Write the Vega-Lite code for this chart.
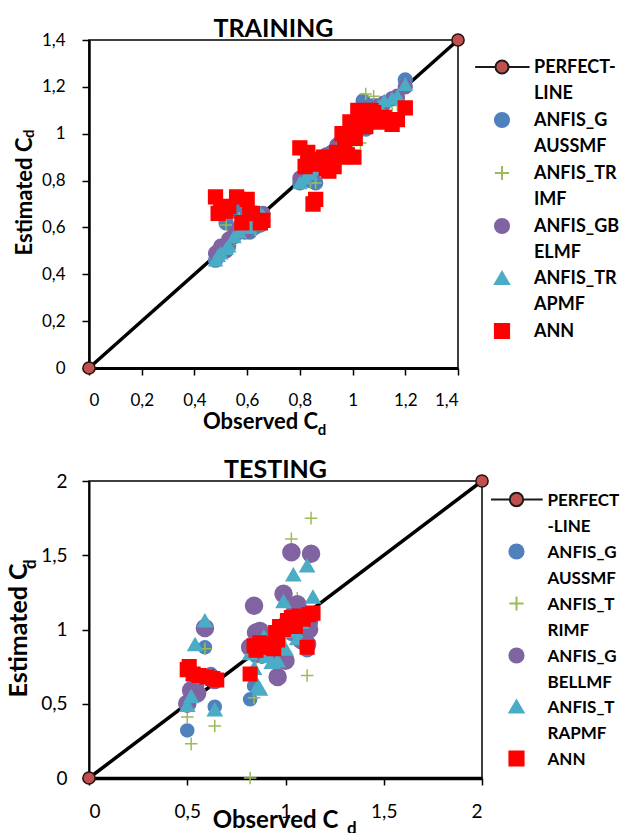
{
  "$schema": "https://vega.github.io/schema/vega-lite/v6.json",
  "background": "white",
  "padding": {"left": 5, "top": 16, "right": 0, "bottom": 0},
  "spacing": 18,
  "columns": 1,
  "align": "none",
  "resolve": {"scale": {"shape": "independent", "fill": "independent", "stroke": "independent"}, "legend": {"shape": "independent", "fill": "independent", "stroke": "independent"}},
  "config": {
    "font": "Lato",
    "view": {"stroke": "black", "strokeWidth": 1.5},
    "style": {"guide-label": {"dy": 6, "lineHeight": 26}},
    "axis": {"grid": false, "domainColor": "black", "tickColor": "black", "labelColor": "black", "titleColor": "black", "labelFont": "Lato", "titleFont": "Lato", "titleFontWeight": "bold", "tickSize": 7, "tickWidth": 1.5}
  },
  "datasets": {
    "train": [
      {"model":"ANFIS_GAUSSMF","obs":0.48,"est":0.46},{"model":"ANFIS_GAUSSMF","obs":0.49,"est":0.48},{"model":"ANFIS_GAUSSMF","obs":0.50,"est":0.50},{"model":"ANFIS_GAUSSMF","obs":0.52,"est":0.62},{"model":"ANFIS_GAUSSMF","obs":0.53,"est":0.52},{"model":"ANFIS_GAUSSMF","obs":0.55,"est":0.56},{"model":"ANFIS_GAUSSMF","obs":0.57,"est":0.67},{"model":"ANFIS_GAUSSMF","obs":0.59,"est":0.59},{"model":"ANFIS_GAUSSMF","obs":0.61,"est":0.58},{"model":"ANFIS_GAUSSMF","obs":0.63,"est":0.60},{"model":"ANFIS_GAUSSMF","obs":0.65,"est":0.61},{"model":"ANFIS_GAUSSMF","obs":0.66,"est":0.63},
      {"model":"ANFIS_GAUSSMF","obs":0.80,"est":0.79},{"model":"ANFIS_GAUSSMF","obs":0.82,"est":0.81},{"model":"ANFIS_GAUSSMF","obs":0.84,"est":0.80},{"model":"ANFIS_GAUSSMF","obs":0.86,"est":0.79},{"model":"ANFIS_GAUSSMF","obs":0.87,"est":0.86},{"model":"ANFIS_GAUSSMF","obs":0.88,"est":0.85},{"model":"ANFIS_GAUSSMF","obs":0.90,"est":0.88},{"model":"ANFIS_GAUSSMF","obs":0.92,"est":0.90},{"model":"ANFIS_GAUSSMF","obs":0.94,"est":0.93},{"model":"ANFIS_GAUSSMF","obs":0.95,"est":0.96},{"model":"ANFIS_GAUSSMF","obs":0.97,"est":0.95},{"model":"ANFIS_GAUSSMF","obs":0.98,"est":0.97},
      {"model":"ANFIS_GAUSSMF","obs":1.00,"est":1.00},{"model":"ANFIS_GAUSSMF","obs":1.01,"est":0.99},{"model":"ANFIS_GAUSSMF","obs":1.03,"est":1.05},{"model":"ANFIS_GAUSSMF","obs":1.04,"est":1.14},{"model":"ANFIS_GAUSSMF","obs":1.05,"est":1.02},{"model":"ANFIS_GAUSSMF","obs":1.06,"est":1.08},{"model":"ANFIS_GAUSSMF","obs":1.08,"est":1.12},{"model":"ANFIS_GAUSSMF","obs":1.10,"est":1.10},{"model":"ANFIS_GAUSSMF","obs":1.12,"est":1.13},{"model":"ANFIS_GAUSSMF","obs":1.15,"est":1.05},{"model":"ANFIS_GAUSSMF","obs":1.17,"est":1.15},{"model":"ANFIS_GAUSSMF","obs":1.20,"est":1.23},
      {"model":"ANFIS_TRIMF","obs":0.48,"est":0.47},{"model":"ANFIS_TRIMF","obs":0.49,"est":0.47},{"model":"ANFIS_TRIMF","obs":0.50,"est":0.51},{"model":"ANFIS_TRIMF","obs":0.52,"est":0.61},{"model":"ANFIS_TRIMF","obs":0.53,"est":0.53},{"model":"ANFIS_TRIMF","obs":0.55,"est":0.55},{"model":"ANFIS_TRIMF","obs":0.57,"est":0.64},{"model":"ANFIS_TRIMF","obs":0.59,"est":0.58},{"model":"ANFIS_TRIMF","obs":0.61,"est":0.60},{"model":"ANFIS_TRIMF","obs":0.63,"est":0.59},{"model":"ANFIS_TRIMF","obs":0.65,"est":0.62},{"model":"ANFIS_TRIMF","obs":0.66,"est":0.61},
      {"model":"ANFIS_TRIMF","obs":0.80,"est":0.80},{"model":"ANFIS_TRIMF","obs":0.82,"est":0.80},{"model":"ANFIS_TRIMF","obs":0.84,"est":0.79},{"model":"ANFIS_TRIMF","obs":0.86,"est":0.79},{"model":"ANFIS_TRIMF","obs":0.87,"est":0.87},{"model":"ANFIS_TRIMF","obs":0.88,"est":0.86},{"model":"ANFIS_TRIMF","obs":0.90,"est":0.89},{"model":"ANFIS_TRIMF","obs":0.92,"est":0.91},{"model":"ANFIS_TRIMF","obs":0.94,"est":0.94},{"model":"ANFIS_TRIMF","obs":0.95,"est":0.96},{"model":"ANFIS_TRIMF","obs":0.97,"est":0.96},{"model":"ANFIS_TRIMF","obs":0.98,"est":0.98},
      {"model":"ANFIS_TRIMF","obs":1.00,"est":0.95},{"model":"ANFIS_TRIMF","obs":1.01,"est":1.01},{"model":"ANFIS_TRIMF","obs":1.03,"est":0.96},{"model":"ANFIS_TRIMF","obs":1.04,"est":1.04},{"model":"ANFIS_TRIMF","obs":1.05,"est":1.17},{"model":"ANFIS_TRIMF","obs":1.06,"est":1.06},{"model":"ANFIS_TRIMF","obs":1.08,"est":1.16},{"model":"ANFIS_TRIMF","obs":1.10,"est":1.09},{"model":"ANFIS_TRIMF","obs":1.12,"est":1.10},{"model":"ANFIS_TRIMF","obs":1.15,"est":1.09},{"model":"ANFIS_TRIMF","obs":1.17,"est":1.12},{"model":"ANFIS_TRIMF","obs":1.20,"est":1.21},
      {"model":"ANFIS_GBELMF","obs":0.48,"est":0.49},{"model":"ANFIS_GBELMF","obs":0.49,"est":0.50},{"model":"ANFIS_GBELMF","obs":0.50,"est":0.52},{"model":"ANFIS_GBELMF","obs":0.52,"est":0.50},{"model":"ANFIS_GBELMF","obs":0.53,"est":0.55},{"model":"ANFIS_GBELMF","obs":0.55,"est":0.57},{"model":"ANFIS_GBELMF","obs":0.57,"est":0.60},{"model":"ANFIS_GBELMF","obs":0.59,"est":0.58},{"model":"ANFIS_GBELMF","obs":0.61,"est":0.61},{"model":"ANFIS_GBELMF","obs":0.63,"est":0.62},{"model":"ANFIS_GBELMF","obs":0.65,"est":0.64},{"model":"ANFIS_GBELMF","obs":0.66,"est":0.66},
      {"model":"ANFIS_GBELMF","obs":0.80,"est":0.81},{"model":"ANFIS_GBELMF","obs":0.82,"est":0.82},{"model":"ANFIS_GBELMF","obs":0.84,"est":0.84},{"model":"ANFIS_GBELMF","obs":0.86,"est":0.86},{"model":"ANFIS_GBELMF","obs":0.87,"est":0.88},{"model":"ANFIS_GBELMF","obs":0.88,"est":0.88},{"model":"ANFIS_GBELMF","obs":0.90,"est":0.91},{"model":"ANFIS_GBELMF","obs":0.92,"est":0.92},{"model":"ANFIS_GBELMF","obs":0.94,"est":0.95},{"model":"ANFIS_GBELMF","obs":0.95,"est":0.94},{"model":"ANFIS_GBELMF","obs":0.97,"est":0.98},{"model":"ANFIS_GBELMF","obs":0.98,"est":0.99},
      {"model":"ANFIS_GBELMF","obs":1.00,"est":1.01},{"model":"ANFIS_GBELMF","obs":1.01,"est":1.02},{"model":"ANFIS_GBELMF","obs":1.03,"est":1.03},{"model":"ANFIS_GBELMF","obs":1.04,"est":1.05},{"model":"ANFIS_GBELMF","obs":1.05,"est":1.06},{"model":"ANFIS_GBELMF","obs":1.06,"est":1.07},{"model":"ANFIS_GBELMF","obs":1.08,"est":1.09},{"model":"ANFIS_GBELMF","obs":1.10,"est":1.12},{"model":"ANFIS_GBELMF","obs":1.12,"est":1.13},{"model":"ANFIS_GBELMF","obs":1.15,"est":1.15},{"model":"ANFIS_GBELMF","obs":1.17,"est":1.16},{"model":"ANFIS_GBELMF","obs":1.20,"est":1.20},
      {"model":"ANFIS_TRAPMF","obs":0.48,"est":0.46},{"model":"ANFIS_TRAPMF","obs":0.49,"est":0.48},{"model":"ANFIS_TRAPMF","obs":0.50,"est":0.49},{"model":"ANFIS_TRAPMF","obs":0.52,"est":0.51},{"model":"ANFIS_TRAPMF","obs":0.53,"est":0.52},{"model":"ANFIS_TRAPMF","obs":0.55,"est":0.56},{"model":"ANFIS_TRAPMF","obs":0.57,"est":0.58},{"model":"ANFIS_TRAPMF","obs":0.59,"est":0.60},{"model":"ANFIS_TRAPMF","obs":0.61,"est":0.60},{"model":"ANFIS_TRAPMF","obs":0.63,"est":0.62},{"model":"ANFIS_TRAPMF","obs":0.65,"est":0.66},{"model":"ANFIS_TRAPMF","obs":0.66,"est":0.65},
      {"model":"ANFIS_TRAPMF","obs":0.80,"est":0.79},{"model":"ANFIS_TRAPMF","obs":0.82,"est":0.81},{"model":"ANFIS_TRAPMF","obs":0.84,"est":0.83},{"model":"ANFIS_TRAPMF","obs":0.86,"est":0.85},{"model":"ANFIS_TRAPMF","obs":0.87,"est":0.86},{"model":"ANFIS_TRAPMF","obs":0.88,"est":0.88},{"model":"ANFIS_TRAPMF","obs":0.90,"est":0.90},{"model":"ANFIS_TRAPMF","obs":0.92,"est":0.92},{"model":"ANFIS_TRAPMF","obs":0.94,"est":0.93},{"model":"ANFIS_TRAPMF","obs":0.95,"est":0.95},{"model":"ANFIS_TRAPMF","obs":0.97,"est":0.96},{"model":"ANFIS_TRAPMF","obs":0.98,"est":0.99},
      {"model":"ANFIS_TRAPMF","obs":1.00,"est":1.00},{"model":"ANFIS_TRAPMF","obs":1.01,"est":1.02},{"model":"ANFIS_TRAPMF","obs":1.03,"est":1.03},{"model":"ANFIS_TRAPMF","obs":1.04,"est":1.04},{"model":"ANFIS_TRAPMF","obs":1.05,"est":1.06},{"model":"ANFIS_TRAPMF","obs":1.06,"est":1.08},{"model":"ANFIS_TRAPMF","obs":1.08,"est":1.09},{"model":"ANFIS_TRAPMF","obs":1.10,"est":1.12},{"model":"ANFIS_TRAPMF","obs":1.12,"est":1.14},{"model":"ANFIS_TRAPMF","obs":1.15,"est":1.15},{"model":"ANFIS_TRAPMF","obs":1.17,"est":1.16},{"model":"ANFIS_TRAPMF","obs":1.20,"est":1.21},
      {"model":"ANN","obs":0.48,"est":0.73},{"model":"ANN","obs":0.49,"est":0.66},{"model":"ANN","obs":0.50,"est":0.67},{"model":"ANN","obs":0.52,"est":0.67},{"model":"ANN","obs":0.53,"est":0.69},{"model":"ANN","obs":0.56,"est":0.73},{"model":"ANN","obs":0.58,"est":0.62},{"model":"ANN","obs":0.60,"est":0.72},{"model":"ANN","obs":0.61,"est":0.66},{"model":"ANN","obs":0.62,"est":0.66},{"model":"ANN","obs":0.65,"est":0.62},{"model":"ANN","obs":0.66,"est":0.63},
      {"model":"ANN","obs":0.80,"est":0.94},{"model":"ANN","obs":0.82,"est":0.86},{"model":"ANN","obs":0.83,"est":0.92},{"model":"ANN","obs":0.84,"est":0.89},{"model":"ANN","obs":0.85,"est":0.70},{"model":"ANN","obs":0.86,"est":0.72},{"model":"ANN","obs":0.86,"est":0.87},{"model":"ANN","obs":0.88,"est":0.88},{"model":"ANN","obs":0.89,"est":0.90},{"model":"ANN","obs":0.90,"est":0.85},{"model":"ANN","obs":0.91,"est":0.84},{"model":"ANN","obs":0.92,"est":0.89},{"model":"ANN","obs":0.93,"est":0.86},{"model":"ANN","obs":0.94,"est":0.92},{"model":"ANN","obs":0.95,"est":0.90},{"model":"ANN","obs":0.96,"est":1.00},{"model":"ANN","obs":0.97,"est":0.95},{"model":"ANN","obs":0.98,"est":0.91},{"model":"ANN","obs":1.005,"est":0.90},
      {"model":"ANN","obs":0.99,"est":1.05},{"model":"ANN","obs":1.00,"est":1.01},{"model":"ANN","obs":1.01,"est":0.98},{"model":"ANN","obs":1.02,"est":1.10},{"model":"ANN","obs":1.03,"est":1.05},{"model":"ANN","obs":1.04,"est":1.08},{"model":"ANN","obs":1.05,"est":1.03},{"model":"ANN","obs":1.06,"est":1.06},{"model":"ANN","obs":1.07,"est":1.10},{"model":"ANN","obs":1.08,"est":1.09},{"model":"ANN","obs":1.10,"est":1.05},{"model":"ANN","obs":1.12,"est":1.07},{"model":"ANN","obs":1.15,"est":1.04},{"model":"ANN","obs":1.17,"est":1.06},{"model":"ANN","obs":1.20,"est":1.11}
    ],
    "test": [
      {"model":"ANFIS_GAUSSMF","obs":0.50,"est":0.32},{"model":"ANFIS_GAUSSMF","obs":0.52,"est":0.55},{"model":"ANFIS_GAUSSMF","obs":0.55,"est":0.62},{"model":"ANFIS_GAUSSMF","obs":0.59,"est":0.88},{"model":"ANFIS_GAUSSMF","obs":0.62,"est":0.70},{"model":"ANFIS_GAUSSMF","obs":0.64,"est":0.48},{"model":"ANFIS_GAUSSMF","obs":0.82,"est":0.53},{"model":"ANFIS_GAUSSMF","obs":0.84,"est":0.62},{"model":"ANFIS_GAUSSMF","obs":0.85,"est":0.82},{"model":"ANFIS_GAUSSMF","obs":0.87,"est":0.90},{"model":"ANFIS_GAUSSMF","obs":0.88,"est":0.86},{"model":"ANFIS_GAUSSMF","obs":0.90,"est":0.95},{"model":"ANFIS_GAUSSMF","obs":0.93,"est":0.92},{"model":"ANFIS_GAUSSMF","obs":0.96,"est":0.88},{"model":"ANFIS_GAUSSMF","obs":0.99,"est":1.00},{"model":"ANFIS_GAUSSMF","obs":1.00,"est":1.05},{"model":"ANFIS_GAUSSMF","obs":1.03,"est":0.97},{"model":"ANFIS_GAUSSMF","obs":1.04,"est":1.08},{"model":"ANFIS_GAUSSMF","obs":1.06,"est":1.02},{"model":"ANFIS_GAUSSMF","obs":1.08,"est":1.10},{"model":"ANFIS_GAUSSMF","obs":1.11,"est":0.86},{"model":"ANFIS_GAUSSMF","obs":1.13,"est":1.05},
      {"model":"ANFIS_TRIMF","obs":0.50,"est":0.41},{"model":"ANFIS_TRIMF","obs":0.52,"est":0.23},{"model":"ANFIS_TRIMF","obs":0.55,"est":0.60},{"model":"ANFIS_TRIMF","obs":0.59,"est":0.87},{"model":"ANFIS_TRIMF","obs":0.62,"est":0.66},{"model":"ANFIS_TRIMF","obs":0.64,"est":0.35},{"model":"ANFIS_TRIMF","obs":0.82,"est":0.00},{"model":"ANFIS_TRIMF","obs":0.84,"est":0.54},{"model":"ANFIS_TRIMF","obs":0.85,"est":0.80},{"model":"ANFIS_TRIMF","obs":0.87,"est":0.92},{"model":"ANFIS_TRIMF","obs":0.88,"est":0.85},{"model":"ANFIS_TRIMF","obs":0.90,"est":0.97},{"model":"ANFIS_TRIMF","obs":0.93,"est":0.89},{"model":"ANFIS_TRIMF","obs":0.96,"est":0.94},{"model":"ANFIS_TRIMF","obs":0.99,"est":1.05},{"model":"ANFIS_TRIMF","obs":1.00,"est":0.95},{"model":"ANFIS_TRIMF","obs":1.03,"est":1.61},{"model":"ANFIS_TRIMF","obs":1.04,"est":1.02},{"model":"ANFIS_TRIMF","obs":1.06,"est":1.21},{"model":"ANFIS_TRIMF","obs":1.08,"est":1.00},{"model":"ANFIS_TRIMF","obs":1.11,"est":0.69},{"model":"ANFIS_TRIMF","obs":1.13,"est":1.75},
      {"model":"ANFIS_GBELLMF","obs":0.50,"est":0.50},{"model":"ANFIS_GBELLMF","obs":0.52,"est":0.59},{"model":"ANFIS_GBELLMF","obs":0.55,"est":0.57},{"model":"ANFIS_GBELLMF","obs":0.59,"est":1.01},{"model":"ANFIS_GBELLMF","obs":0.62,"est":0.68},{"model":"ANFIS_GBELLMF","obs":0.64,"est":0.66},{"model":"ANFIS_GBELLMF","obs":0.82,"est":0.88},{"model":"ANFIS_GBELLMF","obs":0.84,"est":1.16},{"model":"ANFIS_GBELLMF","obs":0.85,"est":0.98},{"model":"ANFIS_GBELLMF","obs":0.87,"est":0.99},{"model":"ANFIS_GBELLMF","obs":0.88,"est":0.83},{"model":"ANFIS_GBELLMF","obs":0.90,"est":0.90},{"model":"ANFIS_GBELLMF","obs":0.93,"est":0.86},{"model":"ANFIS_GBELLMF","obs":0.96,"est":0.68},{"model":"ANFIS_GBELLMF","obs":0.99,"est":1.24},{"model":"ANFIS_GBELLMF","obs":1.00,"est":0.79},{"model":"ANFIS_GBELLMF","obs":1.03,"est":1.52},{"model":"ANFIS_GBELLMF","obs":1.04,"est":1.10},{"model":"ANFIS_GBELLMF","obs":1.06,"est":1.17},{"model":"ANFIS_GBELLMF","obs":1.08,"est":0.93},{"model":"ANFIS_GBELLMF","obs":1.11,"est":0.90},{"model":"ANFIS_GBELLMF","obs":1.12,"est":1.00},{"model":"ANFIS_GBELLMF","obs":1.13,"est":1.51},
      {"model":"ANFIS_TRAPMF","obs":0.50,"est":0.49},{"model":"ANFIS_TRAPMF","obs":0.52,"est":0.55},{"model":"ANFIS_TRAPMF","obs":0.54,"est":0.90},{"model":"ANFIS_TRAPMF","obs":0.59,"est":1.06},{"model":"ANFIS_TRAPMF","obs":0.62,"est":0.69},{"model":"ANFIS_TRAPMF","obs":0.64,"est":0.46},{"model":"ANFIS_TRAPMF","obs":0.82,"est":0.84},{"model":"ANFIS_TRAPMF","obs":0.84,"est":0.74},{"model":"ANFIS_TRAPMF","obs":0.86,"est":0.62},{"model":"ANFIS_TRAPMF","obs":0.87,"est":0.60},{"model":"ANFIS_TRAPMF","obs":0.89,"est":0.95},{"model":"ANFIS_TRAPMF","obs":0.90,"est":0.82},{"model":"ANFIS_TRAPMF","obs":0.93,"est":0.78},{"model":"ANFIS_TRAPMF","obs":0.96,"est":0.79},{"model":"ANFIS_TRAPMF","obs":0.99,"est":1.19},{"model":"ANFIS_TRAPMF","obs":1.00,"est":0.87},{"model":"ANFIS_TRAPMF","obs":1.04,"est":1.37},{"model":"ANFIS_TRAPMF","obs":1.05,"est":0.99},{"model":"ANFIS_TRAPMF","obs":1.06,"est":0.94},{"model":"ANFIS_TRAPMF","obs":1.08,"est":1.05},{"model":"ANFIS_TRAPMF","obs":1.11,"est":1.43},{"model":"ANFIS_TRAPMF","obs":1.14,"est":1.22},
      {"model":"ANN","obs":0.50,"est":0.73},{"model":"ANN","obs":0.51,"est":0.75},{"model":"ANN","obs":0.53,"est":0.70},{"model":"ANN","obs":0.56,"est":0.69},{"model":"ANN","obs":0.60,"est":0.68},{"model":"ANN","obs":0.63,"est":0.67},{"model":"ANN","obs":0.65,"est":0.66},{"model":"ANN","obs":0.82,"est":0.70},{"model":"ANN","obs":0.84,"est":0.89},{"model":"ANN","obs":0.85,"est":0.86},{"model":"ANN","obs":0.87,"est":0.91},{"model":"ANN","obs":0.89,"est":0.88},{"model":"ANN","obs":0.91,"est":0.90},{"model":"ANN","obs":0.94,"est":0.87},{"model":"ANN","obs":0.95,"est":0.98},{"model":"ANN","obs":0.96,"est":0.93},{"model":"ANN","obs":0.97,"est":1.02},{"model":"ANN","obs":0.99,"est":1.00},{"model":"ANN","obs":1.01,"est":1.06},{"model":"ANN","obs":1.03,"est":1.08},{"model":"ANN","obs":1.05,"est":1.02},{"model":"ANN","obs":1.07,"est":1.09},{"model":"ANN","obs":1.09,"est":1.07},{"model":"ANN","obs":1.11,"est":0.88},{"model":"ANN","obs":1.12,"est":1.10},{"model":"ANN","obs":1.14,"est":1.11}
    ]
  },
  "concat": [
    {
      "width": 369,
      "height": 328,
      "title": {"text": "TRAINING", "font": "Lato", "fontSize": 25, "fontWeight": "bold", "color": "black", "frame": "group", "baseline": "alphabetic", "offset": -31},
      "encoding": {
        "x": {"field": "obs", "type": "quantitative", "scale": {"domain": [0, 1.4], "nice": false},
              "axis": {"values": [0, 0.2, 0.4, 0.6, 0.8, 1, 1.2, 1.4], "labelExpr": "replace(format(datum.value, '.1~f'), '.', ',')", "labelFontSize": 17, "labelPadding": 11, "domainWidth": 3, "title": "Observed C", "titleFontSize": 22, "titleX": 171, "titleY": 60, "titleBaseline": "alphabetic", "titleAlign": "center"}},
        "y": {"field": "est", "type": "quantitative", "scale": {"domain": [0, 1.4], "nice": false},
              "axis": {"values": [0, 0.2, 0.4, 0.6, 0.8, 1, 1.2, 1.4], "labelExpr": "replace(format(datum.value, '.1~f'), '.', ',')", "labelFontSize": 17, "labelPadding": 17, "labelOffset": -6, "domainWidth": 2.5, "title": "Estimated C", "titleFontSize": 22, "titleAngle": 270, "titleX": -58, "titleY": 156, "titleBaseline": "alphabetic", "titleAlign": "center"}}
      },
      "layer": [
        {"data": {"values": [{"obs": 0, "est": 0}, {"obs": 1.4, "est": 1.4}]}, "mark": {"type": "line", "color": "black", "strokeWidth": 3.5, "clip": false}},
        {"data": {"name": "train"},
         "encoding": {
           "shape": {"field": "model", "type": "nominal", "scale": {"domain": ["PERFECT-LINE", "ANFIS_GAUSSMF", "ANFIS_TRIMF", "ANFIS_GBELMF", "ANFIS_TRAPMF", "ANN"], "range": ["M-3.8,0H-0.92M0.92,0H3.9M-0.92,0A0.92,0.92,0,1,1,0.92,0A0.92,0.92,0,1,1,-0.92,0Z", "circle", "M-1,0H1M0,-1V1", "circle", "triangle-up", "square"]},
                     "legend": {"orient": "none", "legendX": 404, "legendY": 18, "title": null, "padding": 0, "labelFont": "Lato", "labelFontSize": 18, "labelFontWeight": "bold", "labelColor": "black", "labelBaseline": "alphabetic", "labelLimit": 300, "labelOffset": 23, "symbolSize": 200, "symbolStrokeWidth": 2, "rowPadding": 5,
                                "labelExpr": "datum.label == 'ANN' ? 'ANN' : datum.label == 'ANFIS_GAUSSMF' ? ['ANFIS_G', 'AUSSMF'] : [slice(datum.label, 0, 8), slice(datum.label, 8)]"}},
           "fill": {"field": "model", "type": "nominal", "scale": {"domain": ["PERFECT-LINE", "ANFIS_GAUSSMF", "ANFIS_TRIMF", "ANFIS_GBELMF", "ANFIS_TRAPMF", "ANN"], "range": ["#C0504D", "#4F81BD", "#9BBB59", "#8064A2", "#4BACC6", "#FF0000"]},
                     "legend": {"orient": "none", "legendX": 404, "legendY": 18, "title": null, "padding": 0, "labelFont": "Lato", "labelFontSize": 18, "labelFontWeight": "bold", "labelColor": "black", "labelBaseline": "alphabetic", "labelLimit": 300, "labelOffset": 23, "symbolSize": 200, "symbolStrokeWidth": 2, "rowPadding": 5,
                                "labelExpr": "datum.label == 'ANN' ? 'ANN' : datum.label == 'ANFIS_GAUSSMF' ? ['ANFIS_G', 'AUSSMF'] : [slice(datum.label, 0, 8), slice(datum.label, 8)]"}},
           "stroke": {"field": "model", "type": "nominal", "scale": {"domain": ["PERFECT-LINE", "ANFIS_GAUSSMF", "ANFIS_TRIMF", "ANFIS_GBELMF", "ANFIS_TRAPMF", "ANN"], "range": ["#1a1a1a", "#4F81BD", "#9BBB59", "#8064A2", "#4BACC6", "#FF0000"]},
                     "legend": {"orient": "none", "legendX": 404, "legendY": 18, "title": null, "padding": 0, "labelFont": "Lato", "labelFontSize": 18, "labelFontWeight": "bold", "labelColor": "black", "labelBaseline": "alphabetic", "labelLimit": 300, "labelOffset": 23, "symbolSize": 200, "symbolStrokeWidth": 2, "rowPadding": 5,
                                "labelExpr": "datum.label == 'ANN' ? 'ANN' : datum.label == 'ANFIS_GAUSSMF' ? ['ANFIS_G', 'AUSSMF'] : [slice(datum.label, 0, 8), slice(datum.label, 8)]"}}
         },
         "layer": [
           {"transform": [{"filter": "datum.model == 'ANFIS_GAUSSMF'"}], "mark": {"type": "point", "filled": true, "opacity": 1, "strokeWidth": 1.5, "size": 190}},
           {"transform": [{"filter": "datum.model == 'ANFIS_TRIMF'"}], "mark": {"type": "point", "filled": true, "opacity": 1, "strokeWidth": 1.5, "size": 150}},
           {"transform": [{"filter": "datum.model == 'ANFIS_GBELMF'"}], "mark": {"type": "point", "filled": true, "opacity": 1, "strokeWidth": 1.5, "size": 190}},
           {"transform": [{"filter": "datum.model == 'ANFIS_TRAPMF'"}], "mark": {"type": "point", "filled": true, "opacity": 1, "strokeWidth": 1.5, "size": 170}},
           {"transform": [{"filter": "datum.model == 'ANN'"}], "mark": {"type": "point", "filled": true, "opacity": 1, "strokeWidth": 1.5, "size": 190}}
         ]
        },
        {"data": {"values": [{"obs": 0, "est": 0}, {"obs": 1.4, "est": 1.4}]}, "mark": {"type": "point", "shape": "circle", "filled": true, "fill": "#C0504D", "stroke": "#2a1010", "strokeWidth": 1.5, "size": 150, "opacity": 1, "clip": false}},
        {"data": {"values": [{"obs": 0.868, "est": -0.285, "sub": "d"}]}, "mark": {"type": "text", "font": "Lato", "fontWeight": "bold", "fontSize": 15, "align": "left", "baseline": "alphabetic", "color": "black", "clip": false}, "encoding": {"text": {"field": "sub"}}},
        {"data": {"values": [{"obs": -0.208, "est": 1.0, "sub": "d"}]}, "mark": {"type": "text", "font": "Lato", "fontWeight": "bold", "fontSize": 15, "angle": 270, "align": "center", "baseline": "alphabetic", "color": "black", "clip": false}, "encoding": {"text": {"field": "sub"}}}
      ]
    },
    {
      "width": 393,
      "height": 297,
      "title": {"text": "TESTING", "font": "Lato", "fontSize": 25, "fontWeight": "bold", "color": "black", "frame": "group", "baseline": "alphabetic", "offset": -31, "dx": -10},
      "encoding": {
        "x": {"field": "obs", "type": "quantitative", "scale": {"domain": [0, 2], "nice": false},
              "axis": {"values": [0, 0.5, 1, 1.5, 2], "labelExpr": "replace(format(datum.value, '.1~f'), '.', ',')", "labelFontSize": 19, "labelPadding": 11, "domainWidth": 3.5, "title": "Observed  C", "titleFontSize": 24, "titleX": 186, "titleY": 49, "titleBaseline": "alphabetic", "titleAlign": "center"}},
        "y": {"field": "est", "type": "quantitative", "scale": {"domain": [0, 2], "nice": false},
              "axis": {"values": [0, 0.5, 1, 1.5, 2], "labelExpr": "replace(format(datum.value, '.1~f'), '.', ',')", "labelFontSize": 19, "labelPadding": 15, "labelOffset": -6, "domainWidth": 2, "title": "Estimated C", "titleFontSize": 25, "titleAngle": 270, "titleX": -63, "titleY": 149, "titleBaseline": "alphabetic", "titleAlign": "center"}}
      },
      "layer": [
        {"data": {"values": [{"obs": 0, "est": 0}, {"obs": 2, "est": 2}]}, "mark": {"type": "line", "color": "black", "strokeWidth": 3.5, "clip": false}},
        {"data": {"name": "test"},
         "encoding": {
           "shape": {"field": "model", "type": "nominal", "scale": {"domain": ["PERFECT-LINE", "ANFIS_GAUSSMF", "ANFIS_TRIMF", "ANFIS_GBELLMF", "ANFIS_TRAPMF", "ANN"], "range": ["M-3.6,0H-0.95M0.95,0H3.7M-0.95,0A0.95,0.95,0,1,1,0.95,0A0.95,0.95,0,1,1,-0.95,0Z", "circle", "M-1,0H1M0,-1V1", "circle", "triangle-up", "square"]},
                     "legend": {"orient": "none", "legendX": 419, "legendY": 10, "title": null, "padding": 0, "labelFont": "Lato", "labelFontSize": 17, "labelFontWeight": "bold", "labelColor": "black", "labelBaseline": "alphabetic", "labelLimit": 300, "labelOffset": 22.5, "symbolSize": 200, "symbolStrokeWidth": 2, "rowPadding": 5,
                                "labelExpr": "datum.label == 'ANN' ? 'ANN' : [slice(datum.label, 0, 7), slice(datum.label, 7)]"}},
           "fill": {"field": "model", "type": "nominal", "scale": {"domain": ["PERFECT-LINE", "ANFIS_GAUSSMF", "ANFIS_TRIMF", "ANFIS_GBELLMF", "ANFIS_TRAPMF", "ANN"], "range": ["#C0504D", "#4F81BD", "#9BBB59", "#8064A2", "#4BACC6", "#FF0000"]},
                     "legend": {"orient": "none", "legendX": 419, "legendY": 10, "title": null, "padding": 0, "labelFont": "Lato", "labelFontSize": 17, "labelFontWeight": "bold", "labelColor": "black", "labelBaseline": "alphabetic", "labelLimit": 300, "labelOffset": 22.5, "symbolSize": 200, "symbolStrokeWidth": 2, "rowPadding": 5,
                                "labelExpr": "datum.label == 'ANN' ? 'ANN' : [slice(datum.label, 0, 7), slice(datum.label, 7)]"}},
           "stroke": {"field": "model", "type": "nominal", "scale": {"domain": ["PERFECT-LINE", "ANFIS_GAUSSMF", "ANFIS_TRIMF", "ANFIS_GBELLMF", "ANFIS_TRAPMF", "ANN"], "range": ["#1a1a1a", "#4F81BD", "#9BBB59", "#8064A2", "#4BACC6", "#FF0000"]},
                     "legend": {"orient": "none", "legendX": 419, "legendY": 10, "title": null, "padding": 0, "labelFont": "Lato", "labelFontSize": 17, "labelFontWeight": "bold", "labelColor": "black", "labelBaseline": "alphabetic", "labelLimit": 300, "labelOffset": 22.5, "symbolSize": 200, "symbolStrokeWidth": 2, "rowPadding": 5,
                                "labelExpr": "datum.label == 'ANN' ? 'ANN' : [slice(datum.label, 0, 7), slice(datum.label, 7)]"}}
         },
         "layer": [
           {"transform": [{"filter": "datum.model == 'ANFIS_GAUSSMF'"}], "mark": {"type": "point", "filled": true, "opacity": 1, "strokeWidth": 1.5, "size": 170}},
           {"transform": [{"filter": "datum.model == 'ANFIS_TRIMF'"}], "mark": {"type": "point", "filled": true, "opacity": 1, "strokeWidth": 1.5, "size": 160}},
           {"transform": [{"filter": "datum.model == 'ANFIS_GBELLMF'"}], "mark": {"type": "point", "filled": true, "opacity": 1, "strokeWidth": 1.5, "size": 290}},
           {"transform": [{"filter": "datum.model == 'ANFIS_TRAPMF'"}], "mark": {"type": "point", "filled": true, "opacity": 1, "strokeWidth": 1.5, "size": 200}},
           {"transform": [{"filter": "datum.model == 'ANN'"}], "mark": {"type": "point", "filled": true, "opacity": 1, "strokeWidth": 1.5, "size": 185}}
         ]
        },
        {"data": {"values": [{"obs": 0, "est": 0}, {"obs": 2, "est": 2}]}, "mark": {"type": "point", "shape": "circle", "filled": true, "fill": "#C0504D", "stroke": "#2a1010", "strokeWidth": 1.5, "size": 150, "opacity": 1, "clip": false}},
        {"data": {"values": [{"obs": 1.313, "est": -0.375, "sub": "d"}]}, "mark": {"type": "text", "font": "Lato", "fontWeight": "bold", "fontSize": 17, "align": "left", "baseline": "alphabetic", "color": "black", "clip": false}, "encoding": {"text": {"field": "sub"}}},
        {"data": {"values": [{"obs": -0.271, "est": 1.44, "sub": "d"}]}, "mark": {"type": "text", "font": "Lato", "fontWeight": "bold", "fontSize": 17, "angle": 270, "align": "center", "baseline": "alphabetic", "color": "black", "clip": false}, "encoding": {"text": {"field": "sub"}}}
      ]
    }
  ]
}
